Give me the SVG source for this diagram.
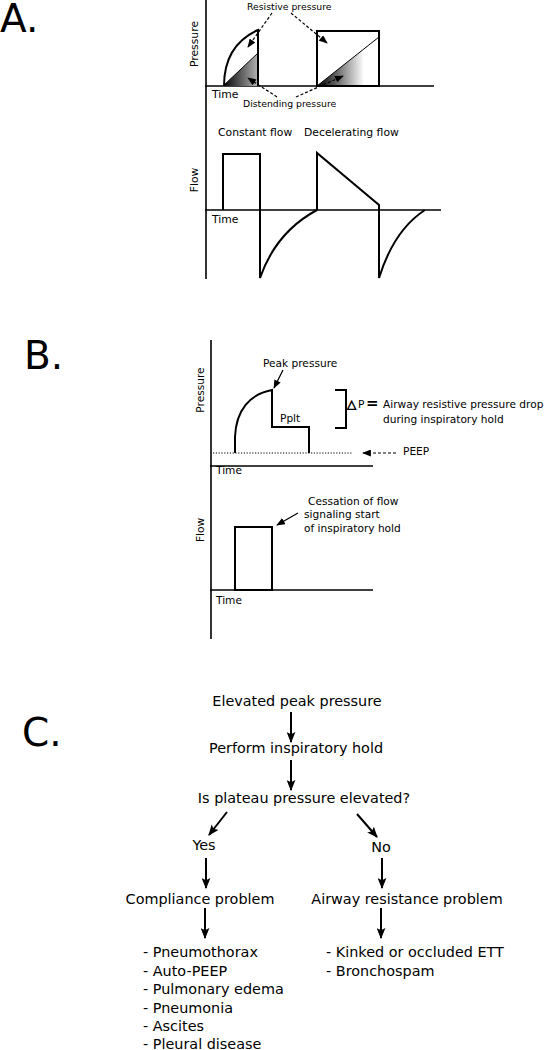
<svg xmlns="http://www.w3.org/2000/svg" width="548" height="1050" viewBox="0 0 548 1050">
<style>
text{font-family:"DejaVu Sans","Liberation Sans",sans-serif;fill:#000}
.big{font-size:39px}
.a{font-size:10.8px}
.s{font-size:9.3px}
.b{font-size:10.6px}
.c{font-size:14.4px}
.ax{stroke:#000;stroke-width:1.6;fill:none}
.w{stroke:#000;stroke-width:2;fill:none}
.thin{stroke:#000;stroke-width:1;fill:none}
.dash{stroke:#000;stroke-width:1.2;fill:none;stroke-dasharray:3 2}
.arr{stroke:#000;stroke-width:2;fill:none}
</style>
<defs>
<marker id="hs" viewBox="0 0 10 8" refX="9" refY="4" markerWidth="9" markerHeight="7" markerUnits="userSpaceOnUse" orient="auto">
<path d="M0,0 L10,4 L0,8 z" fill="#000"/>
</marker>
<marker id="hc" viewBox="0 0 10 8" refX="9" refY="4" markerWidth="11" markerHeight="9" markerUnits="userSpaceOnUse" orient="auto">
<path d="M0,0 L10,4 L0,8 L2,4 z" fill="#000"/>
</marker>
<linearGradient id="g1" x1="223" y1="0" x2="262" y2="0" gradientUnits="userSpaceOnUse">
<stop offset="0" stop-color="#000"/>
<stop offset="1" stop-color="#c8c8c8"/>
</linearGradient>
<linearGradient id="g2" x1="318" y1="0" x2="364" y2="0" gradientUnits="userSpaceOnUse">
<stop offset="0" stop-color="#000"/>
<stop offset="1" stop-color="#fff"/>
</linearGradient>
</defs>

<!-- Panel A -->
<g id="panelA">
<text class="big" x="0" y="32">A.</text>
<line class="ax" x1="206" y1="0" x2="206" y2="279"/>
<line class="ax" x1="205" y1="86" x2="434" y2="86"/>
<line class="ax" x1="205" y1="210" x2="441" y2="210"/>
<text class="a" transform="translate(198,44) rotate(-90)" text-anchor="middle">Pressure</text>
<text class="a" transform="translate(198,180) rotate(-90)" text-anchor="middle">Flow</text>
<text class="a" x="212" y="98">Time</text>
<text class="a" x="212" y="223">Time</text>
<text class="s" x="247" y="10">Resistive pressure</text>
<text class="s" x="243" y="107">Distending pressure</text>
<text class="a" x="218" y="136">Constant flow</text>
<text class="a" x="304" y="136">Decelerating flow</text>
<path d="M223,86 L258,53 L258,86 z" fill="url(#g1)"/>
<line class="thin" x1="223" y1="86" x2="258" y2="53"/>
<path class="w" d="M224,86 C224,58 236,40 258,30 L258,86"/>
<path d="M317,86 L379,37 L379,86 z" fill="url(#g2)"/>
<line class="thin" x1="317" y1="86" x2="379" y2="37"/>
<rect class="w" x="317" y="31" width="62" height="55"/>
<path class="w" d="M223,210 L223,154 L260,154 L260,278 Q276,232 317,210"/>
<path class="w" d="M317,210 L317,153 L379,205 L379,278 Q394,230 425,210"/>
</g>

<g id="connectorsA">
<line class="dash" x1="272" y1="13" x2="248" y2="47" marker-end="url(#hs)"/>
<line class="dash" x1="291" y1="13" x2="327" y2="43" marker-end="url(#hs)"/>
<line class="dash" x1="277" y1="97" x2="248" y2="78" marker-end="url(#hs)"/>
<line class="dash" x1="296" y1="97" x2="343" y2="76" marker-end="url(#hs)"/>
</g>

<!-- Panel B -->
<g id="panelB">
<text class="big" x="24" y="369">B.</text>
<line class="ax" x1="211" y1="340" x2="211" y2="639"/>
<line class="ax" x1="210" y1="466" x2="373" y2="466"/>
<line class="ax" x1="210" y1="590" x2="373" y2="590"/>
<line x1="213" y1="453" x2="352" y2="453" stroke="#000" stroke-width="1.2" stroke-dasharray="1.2 1.6"/>
<text class="b" transform="translate(204,390) rotate(-90)" text-anchor="middle">Pressure</text>
<text class="b" transform="translate(204,530) rotate(-90)" text-anchor="middle">Flow</text>
<text class="b" x="216" y="474">Time</text>
<text class="b" x="216" y="604">Time</text>
<path class="w" d="M235,453 L235,437 C236,410 250,394 272,390 L272,427 L309,427 L309,453"/>
<text class="b" x="263" y="367">Peak pressure</text>
<text class="b" x="280" y="422">Pplt</text>
<path d="M335,390 L346,390 L346,428 L335,428" stroke="#000" stroke-width="2" fill="none"/>
<text x="347" y="408" style="font-size:12px;font-weight:bold;stroke:#000;stroke-width:0.6">△</text>
<text class="b" x="358" y="408">P</text>
<text x="366" y="408" style="font-size:15px;font-weight:bold">=</text>
<text class="b" x="383" y="408">Airway resistive pressure drop</text>
<text class="b" x="383" y="423">during inspiratory hold</text>
<text class="b" x="403" y="455">PEEP</text>
<rect class="w" x="235" y="527" width="37" height="63"/>
<text class="b" x="308" y="505">Cessation of flow</text>
<text class="b" x="304" y="518">signaling start</text>
<text class="b" x="304" y="532">of inspiratory hold</text>
</g>

<g id="connectorsB">
<line stroke="#000" stroke-width="1.2" x1="283" y1="370" x2="274" y2="388" marker-end="url(#hs)"/>
<line class="dash" x1="396" y1="453" x2="363" y2="453" marker-end="url(#hs)"/>
<line stroke="#000" stroke-width="1.2" x1="298" y1="513" x2="277" y2="525" marker-end="url(#hs)"/>
</g>

<!-- Panel C -->
<g id="panelC">
<text class="big" x="22" y="746">C.</text>
<g id="n-peak"><text class="c" x="297" y="706" text-anchor="middle">Elevated peak pressure</text></g>
<g id="n-hold"><text class="c" x="296" y="753" text-anchor="middle">Perform inspiratory hold</text></g>
<g id="n-plateau"><text class="c" x="304" y="803" text-anchor="middle">Is plateau pressure elevated?</text></g>
<g id="n-yes"><text class="c" x="204" y="850" text-anchor="middle">Yes</text></g>
<g id="n-no"><text class="c" x="381" y="852" text-anchor="middle">No</text></g>
<g id="n-compliance"><text class="c" x="200" y="904" text-anchor="middle">Compliance problem</text></g>
<g id="n-airway"><text class="c" x="407" y="904" text-anchor="middle">Airway resistance problem</text></g>
<g id="n-list1">
<text class="c" x="143" y="957">- Pneumothorax</text>
<text class="c" x="143" y="976">- Auto-PEEP</text>
<text class="c" x="143" y="994">- Pulmonary edema</text>
<text class="c" x="143" y="1013">- Pneumonia</text>
<text class="c" x="143" y="1031">- Ascites</text>
<text class="c" x="143" y="1049">- Pleural disease</text>
</g>
<g id="n-list2">
<text class="c" x="326" y="957">- Kinked or occluded ETT</text>
<text class="c" x="326" y="976">- Bronchospam</text>
</g>
</g>

<g id="connectorsC">
<line class="arr" x1="291" y1="712" x2="291" y2="742" marker-end="url(#hc)"/>
<line class="arr" x1="291" y1="760" x2="291" y2="790" marker-end="url(#hc)"/>
<line class="arr" x1="227" y1="812" x2="209" y2="835" marker-end="url(#hc)"/>
<line class="arr" x1="357" y1="814" x2="377" y2="837" marker-end="url(#hc)"/>
<line class="arr" x1="206" y1="858" x2="206" y2="888" marker-end="url(#hc)"/>
<line class="arr" x1="382" y1="858" x2="382" y2="888" marker-end="url(#hc)"/>
<line class="arr" x1="205" y1="908" x2="205" y2="938" marker-end="url(#hc)"/>
<line class="arr" x1="381" y1="908" x2="381" y2="938" marker-end="url(#hc)"/>
</g>
</svg>
